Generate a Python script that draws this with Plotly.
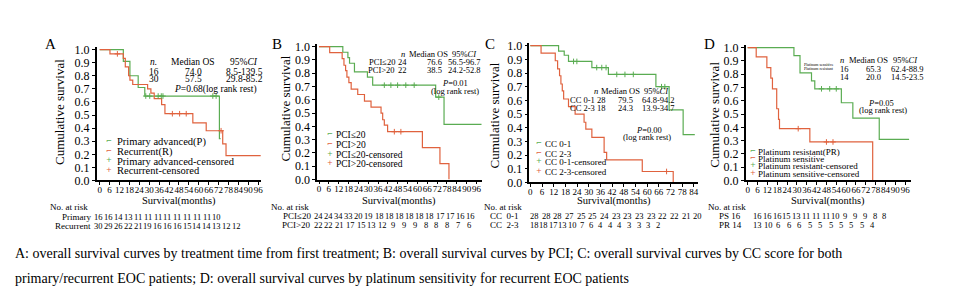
import plotly.graph_objects as go

W, H = 955, 296
GREEN = "#5aac52"
RED = "#e0623e"
FONT = "Liberation Serif, Times New Roman, serif"

# ---------------- DATA ----------------
# Panel A: primary advanced vs recurrent
A_P_t = [0, 14.3, 18.3, 23.3, 27.3, 72.5, 73.2]
A_P_s = [1.0, 0.91, 0.80, 0.71, 0.645, 0.32, 0.32]
A_R_t = [0, 6.2, 14.3, 15.5, 17.5, 18.3, 20.0, 29.0, 31.0, 33.0, 37.5, 39.5, 56.4, 64.5, 74.5, 76.5, 97.5]
A_R_s = [1.0, 0.967, 0.933, 0.867, 0.80, 0.767, 0.733, 0.70, 0.667, 0.625, 0.58, 0.51, 0.44, 0.38, 0.28, 0.19, 0.19]
A_P_cens_t = [27.9, 30.3, 35.4, 37.3, 38.3, 68.5, 70.5]
A_P_cens_s = [0.645, 0.645, 0.645, 0.645, 0.645, 0.645, 0.645]
A_R_cens_t = [10.7, 44.0, 48.4, 52.4, 73.5]
A_R_cens_s = [0.967, 0.51, 0.51, 0.51, 0.38]

# Panel B: PCI
B_L_t = [0, 14.5, 17.6, 18.6, 21.6, 29.5, 32.7, 71.1, 76.2, 99.5]
B_L_s = [1.0, 0.958, 0.917, 0.875, 0.81, 0.77, 0.71, 0.62, 0.415, 0.415]
B_H_t = [0, 6.5, 14.1, 15.2, 16.2, 17.0, 18.2, 19.6, 23.6, 27.7, 31.7, 37.8, 38.8, 39.8, 41.8, 63.0, 73.7, 79.2]
B_H_s = [1.0, 0.955, 0.91, 0.86, 0.82, 0.77, 0.73, 0.68, 0.64, 0.59, 0.545, 0.50, 0.45, 0.41, 0.36, 0.24, 0.12, 0.0]
B_L_cens_t = [39.8, 43.8, 47.9, 52.9, 58.0, 73.0]
B_L_cens_s = [0.71, 0.71, 0.71, 0.71, 0.71, 0.62]
B_H_cens_t = [45.9, 49.9]
B_H_cens_s = [0.36, 0.36]

# Panel C: CC score
C_L_t = [0, 14.5, 17.4, 19.6, 31.6, 40.1, 64.5, 71.3, 78.5, 84.5]
C_L_s = [1.0, 0.96, 0.93, 0.885, 0.84, 0.79, 0.70, 0.53, 0.35, 0.35]
C_H_t = [0, 5.5, 12.8, 14.0, 15.0, 15.7, 16.4, 17.1, 19.6, 23.0, 27.6, 28.5, 31.6, 37.9, 39.2, 57.5, 73.4]
C_H_s = [1.0, 0.945, 0.89, 0.83, 0.78, 0.72, 0.67, 0.61, 0.555, 0.50, 0.44, 0.39, 0.33, 0.22, 0.165, 0.08, 0.0]
C_L_cens_t = [22.2, 23.9, 34.1, 36.7, 38.9, 44.4, 48.6, 52.9, 67.4, 69.1]
C_L_cens_s = [0.885, 0.885, 0.84, 0.84, 0.84, 0.79, 0.79, 0.79, 0.70, 0.70]
C_H_cens_t = [70.0]
C_H_cens_s = [0.08]

# Panel D: platinum sensitivity
D_R_t = [0, 28.2, 31.9, 38.9, 40.9, 57.1, 64.1, 80.2, 98.4]
D_R_s = [1.0, 0.94, 0.81, 0.75, 0.69, 0.585, 0.47, 0.31, 0.31]
D_S_t = [0, 5.2, 11.7, 14.1, 15.1, 17.7, 18.8, 19.4, 37.9, 76.2]
D_S_s = [1.0, 0.93, 0.85, 0.77, 0.69, 0.54, 0.46, 0.39, 0.29, 0.0]
D_R_cens_t = [45.0, 50.0, 54.0]
D_R_cens_s = [0.69, 0.69, 0.69]
D_S_cens_t = [30.8, 48.0, 52.0]
D_S_cens_s = [0.39, 0.29, 0.29]

# at-risk tables
A_risk_P = ["16", "16", "14", "13", "11", "11", "11", "11", "11", "11", "11", "11", "10"]
A_risk_R = ["30", "29", "26", "22", "21", "19", "16", "16", "16", "15", "14", "14", "13", "12", "12"]
B_risk_L = ["24", "24", "34", "33", "20", "19", "18", "18", "18", "18", "18", "18", "17", "17", "16", "16"]
B_risk_H = ["22", "22", "21", "17", "15", "13", "12", "9", "9", "9", "8", "8", "8", "7", "6"]
C_risk_L = ["28", "28", "28", "27", "25", "25", "24", "23", "23", "23", "23", "22", "22", "21", "20"]
C_risk_H = ["18", "18", "17", "13", "10", "7", "6", "4", "4", "4", "3", "3", "3", "2"]
D_risk_S = ["16", "16", "16", "15", "13", "11", "11", "11", "10", "9", "9", "9", "8", "8"]
D_risk_R = ["13", "10", "6", "6", "6", "5", "5", "5", "5", "5", "5", "4"]

X_TICKS_96 = list(range(0, 97, 6))
X_TICKS_84 = list(range(0, 85, 6))
Y_TICKS = [i / 10 for i in range(11)]

# ---------------- LAYOUT GEOMETRY (pixels) ----------------
panels = [
    dict(ax="", left=88, right=253, zero=91, tmax=96, tmaxpx=250, top1=39, bot=175, ticks=X_TICKS_96),
    dict(ax="2", left=309, right=474, zero=311, tmax=96, tmaxpx=469, top1=36, bot=174, ticks=X_TICKS_96),
    dict(ax="3", left=522, right=691, zero=523, tmax=84, tmaxpx=687, top1=35, bot=177, ticks=X_TICKS_84),
    dict(ax="4", left=739, right=905, zero=741, tmax=96, tmaxpx=899, top1=37, bot=175, ticks=X_TICKS_96),
]
curves = [
    [(A_P_t, A_P_s, GREEN), (A_R_t, A_R_s, RED)],
    [(B_L_t, B_L_s, GREEN), (B_H_t, B_H_s, RED)],
    [(C_L_t, C_L_s, GREEN), (C_H_t, C_H_s, RED)],
    [(D_R_t, D_R_s, GREEN), (D_S_t, D_S_s, RED)],
]
censors = [
    [(A_P_cens_t, A_P_cens_s, GREEN), (A_R_cens_t, A_R_cens_s, RED)],
    [(B_L_cens_t, B_L_cens_s, GREEN), (B_H_cens_t, B_H_cens_s, RED)],
    [(C_L_cens_t, C_L_cens_s, GREEN), (C_H_cens_t, C_H_cens_s, RED)],
    [(D_R_cens_t, D_R_cens_s, GREEN), (D_S_cens_t, D_S_cens_s, RED)],
]

fig = go.Figure()
layout = dict(width=W, height=H, margin=dict(l=0, r=0, t=0, b=0),
              paper_bgcolor="white", plot_bgcolor="white", showlegend=False)
YTOP = 1.02
for p, cs, cens in zip(panels, curves, censors):
    scale = (p["tmaxpx"] - p["zero"]) / p["tmax"]
    xr = [(p["left"] - p["zero"]) / scale, (p["right"] - p["zero"]) / scale]
    toppx = p["top1"] - (YTOP - 1) * (p["bot"] - p["top1"])
    xa = "xaxis" + p["ax"]
    ya = "yaxis" + p["ax"]
    layout[xa] = dict(domain=[p["left"] / W, p["right"] / W], range=xr, anchor="y" + p["ax"],
                      tickvals=p["ticks"], ticks="outside", ticklen=3, tickwidth=1.2, tickcolor="black",
                      showline=True, linecolor="black", linewidth=1.5, showgrid=False, zeroline=False,
                      tickangle=0, ticklabelstandoff=-3,
                      tickfont=dict(family=FONT, size=9, color="black"))
    layout[ya] = dict(domain=[1 - p["bot"] / H, 1 - toppx / H], range=[0, YTOP], anchor="x" + p["ax"],
                      tickvals=Y_TICKS, tickformat=".1f", ticks="outside", ticklen=3, tickwidth=1.2,
                      tickcolor="black", showline=True, linecolor="black", linewidth=1.5,
                      showgrid=False, zeroline=False, tickfont=dict(family=FONT, size=12, color="black"))
    for t, s, c in cs:
        fig.add_trace(go.Scatter(x=t, y=s, mode="lines", line=dict(shape="hv", color=c, width=1.2),
                                 xaxis="x" + p["ax"], yaxis="y" + p["ax"], hoverinfo="skip"))
    for t, s, c in cens:
        fig.add_trace(go.Scatter(x=t, y=s, mode="markers",
                                 marker=dict(symbol="cross-thin", size=4, line=dict(color=c, width=1)),
                                 xaxis="x" + p["ax"], yaxis="y" + p["ax"], hoverinfo="skip"))

ann = []


def T(px, py, text, size=9, anchor="center", **kw):
    ann.append(dict(x=px / W, y=1 - py / H, xref="paper", yref="paper", text=text, showarrow=False,
                    xanchor=anchor, yanchor="middle", borderpad=0,
                    font=dict(family=FONT, size=size, color="black"), **kw))


def G(px, py, color, ch, size):
    ann.append(dict(x=px / W, y=1 - py / H, xref="paper", yref="paper", text=ch, showarrow=False,
                    xanchor="center", yanchor="middle", borderpad=0,
                    font=dict(family="DejaVu Sans", size=size, color=color)))


# panel letters, axis titles
for lx, lt in [(42, "A"), (269, "B"), (483, "C"), (703, "D")]:
    T(lx, 33, lt, 15)
for yx, yy in [(50, 104), (277, 100), (487, 107), (707, 107)]:
    T(yx, yy, "Cumulative survival", 13, textangle=-90)
for p in panels:
    T((p["left"] + p["right"]) / 2, 196, "Survival(months)", 10.5)

# Panel A stats
T(145, 52, "<i>n.</i>", 9.5); T(185, 52, "Median OS", 9.5); T(236, 52, "95%<i>CI</i>", 9.5)
T(145, 62, "16", 9.5); T(185, 62, "74.0", 9.5); T(236, 62, "8.5-139.5", 9.5)
T(145, 70, "30", 9.5); T(185, 70, "57.5", 9.5); T(236, 70, "29.8-85.2", 9.5)
T(207, 80, "<i>P</i>=0.68(log rank rest)", 9.5)
# Panel B stats
T(395, 44, "<i>n</i>", 8.5); T(421, 44, "Median OS", 8.5); T(457, 44, "95%<i>CI</i>", 8.5)
T(388, 52, "PCI≤20", 8.5, "right"); T(395, 52, "24", 8.5); T(427, 52, "76.6", 8.5); T(457, 52, "56.5-96.7", 8.5)
T(388, 60, "PCI>20", 8.5, "right"); T(395, 60, "22", 8.5); T(427, 60, "38.5", 8.5); T(457, 60, "24.2-52.8", 8.5)
T(447, 74, "<i>P</i>=0.01", 8.5); T(447, 82, "(log rank rest)", 8.5)
# Panel C stats
T(589, 82, "<i>n</i>", 8.5); T(613, 82, "Median OS", 8.5); T(650, 82, "95%<i>CI</i>", 8.5)
T(599, 91, "CC 0-1 28", 8.5, "right"); T(618, 91, "79.5", 8.5); T(652, 91, "64.8-94.2", 8.5)
T(599, 100, "CC 2-3 18", 8.5, "right"); T(618, 100, "24.3", 8.5); T(652, 100, "13.9-34.7", 8.5)
T(642, 123, "<i>P</i>=0.00", 8.5); T(640, 130, "(log rank rest)", 8.5)
# Panel D stats
T(836, 50, "<i>n</i>", 8.5); T(862, 50, "Median OS", 8.5); T(899, 50, "95%<i>CI</i>", 8.5)
T(838, 59, "16", 8.5); T(867, 59, "65.3", 8.5); T(901, 59, "62.4-88.9", 8.5)
T(838, 67, "14", 8.5); T(867, 67, "20.0", 8.5); T(901, 67, "14.5-23.5", 8.5)
T(813, 55, "Platinum sensitive", 4); T(813, 59, "Platinum resistant", 4)
T(875, 94, "<i>P</i>=0.05", 8.5); T(877, 102, "(log rank rest)", 8.5)

# legends
legends = [
    (100, 107, [135, 145, 155, 165], 10.5,
     ["Primary advanced(P)", "Recurrent(R)", "Primary advanced-censored", "Recurrent-censored"]),
    (322, 327, [128, 138, 148, 158], 9.5,
     ["PCI≤20", "PCI>20", "PCI≤20-censored", "PCI>20-censored"]),
    (532, 537, [137, 147, 156, 166], 9,
     ["CC 0-1", "CC 2-3", "CC 0-1-censored", "CC 2-3-censored"]),
    (746, 750, [145, 153, 160, 168], 9,
     ["Platinum resistant(PR)", "Platinum sensitive", "Platinum resistant-censored", "Platinum sensitive-censored"]),
]
for gx, tx, ys, sz, labels in legends:
    cols = [GREEN, RED, GREEN, RED]
    chars = ["⌐", "⌐", "+", "+"]
    for yy, lab, c, ch in zip(ys, labels, cols, chars):
        G(gx, yy - 1, c, ch, 7)
        T(tx, yy, lab, sz, "left")


# at-risk tables
def risk_row(values, x0, x1, py):
    n = len(values)
    step = (x1 - x0) / (n - 1)
    for i, v in enumerate(values):
        T(x0 + i * step, py, v, 8.5)


T(40, 203, "No. at risk", 9, "left")
T(83, 213, "Primary", 9, "right"); risk_row(A_risk_P, 90, 208, 213)
T(83, 222, "Recurrent", 9, "right"); risk_row(A_risk_R, 90, 228, 222)
T(262, 203, "No. at risk", 9, "left")
T(304, 212, "PCI≤20", 9, "right"); risk_row(B_risk_L, 310, 463, 212)
T(304, 221, "PCI>20", 9, "right"); risk_row(B_risk_H, 310, 461, 221)
T(475, 203, "No. at risk", 9, "left")
T(482, 212, "CC  0-1", 9, "left"); risk_row(C_risk_L, 527, 691, 212)
T(482, 221, "CC  2-3", 9, "left"); risk_row(C_risk_H, 527, 651, 221)
T(700, 203, "No. at risk", 9, "left")
T(711, 212, "PS 16", 9, "left"); risk_row(D_risk_S, 751, 878, 212)
T(711, 221, "PR 14", 9, "left"); risk_row(D_risk_R, 751, 866, 221)

# caption
T(5, 251, "A: overall survival curves by treatment time from first treatment; B: overall survival curves by PCI; "
          "C: overall survival curves by CC score for both", 14, "left")
T(5, 277, "primary/recurrent EOC patients; D: overall survival curves by platinum sensitivity for recurrent EOC patients",
  14, "left")

layout["annotations"] = ann
fig.update_layout(**layout)
fig.write_html("out.html")
